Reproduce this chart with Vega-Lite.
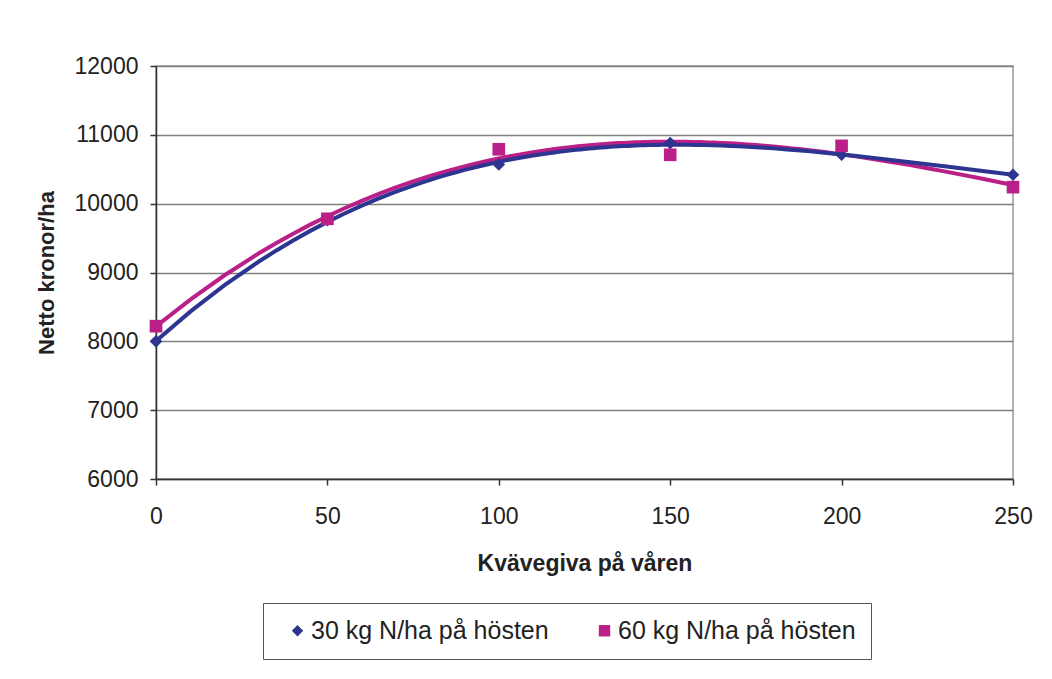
{
  "$schema": "https://vega.github.io/schema/vega-lite/v6.json",
  "width": 857,
  "height": 413,
  "autosize": {"type": "none"},
  "padding": {"left": 156, "top": 66, "right": 39, "bottom": 200},
  "background": "white",
  "config": {
    "font": "Liberation Sans",
    "view": {"stroke": "#999999", "strokeWidth": 1.5}
  },
  "data": {
    "values": [
      {"serie": "30 kg N/ha på hösten", "kvave": 0, "netto": 8000},
      {"serie": "30 kg N/ha på hösten", "kvave": 50, "netto": 9760},
      {"serie": "30 kg N/ha på hösten", "kvave": 100, "netto": 10570},
      {"serie": "30 kg N/ha på hösten", "kvave": 150, "netto": 10880},
      {"serie": "30 kg N/ha på hösten", "kvave": 200, "netto": 10710},
      {"serie": "30 kg N/ha på hösten", "kvave": 250, "netto": 10420},
      {"serie": "60 kg N/ha på hösten", "kvave": 0, "netto": 8220},
      {"serie": "60 kg N/ha på hösten", "kvave": 50, "netto": 9780},
      {"serie": "60 kg N/ha på hösten", "kvave": 100, "netto": 10790},
      {"serie": "60 kg N/ha på hösten", "kvave": 150, "netto": 10710},
      {"serie": "60 kg N/ha på hösten", "kvave": 200, "netto": 10840},
      {"serie": "60 kg N/ha på hösten", "kvave": 250, "netto": 10240}
    ]
  },
  "encoding": {
    "x": {
      "field": "kvave",
      "type": "quantitative",
      "title": "Kvävegiva på våren",
      "scale": {"domain": [0, 250], "nice": false},
      "axis": {
        "values": [0, 50, 100, 150, 200, 250],
        "grid": false,
        "labelFlush": false,
        "domainColor": "#333333",
        "domainWidth": 1.5,
        "tickColor": "#333333",
        "tickWidth": 1.5,
        "tickSize": 6,
        "labelFontSize": 23,
        "labelColor": "#222222",
        "labelPadding": 20,
        "titleFontSize": 23,
        "titleFontWeight": "bold",
        "titleColor": "#222222",
        "titleY": 91,
        "titleBaseline": "alphabetic"
      }
    },
    "y": {
      "field": "netto",
      "type": "quantitative",
      "title": "Netto kronor/ha",
      "scale": {"domain": [6000, 12000], "nice": false, "zero": false},
      "axis": {
        "values": [6000, 7000, 8000, 9000, 10000, 11000, 12000],
        "format": "d",
        "grid": true,
        "labelFlush": false,
        "gridColor": "#808080",
        "gridWidth": 1.5,
        "domainColor": "#333333",
        "domainWidth": 1.5,
        "tickColor": "#333333",
        "tickWidth": 1.5,
        "tickSize": 6,
        "labelFontSize": 23,
        "labelColor": "#222222",
        "labelPadding": 12,
        "titleFontSize": 22,
        "titleFontWeight": "bold",
        "titleColor": "#222222",
        "titleX": -103,
        "titleBaseline": "alphabetic"
      }
    }
  },
  "layer": [
    {
      "transform": [
        {"filter": "datum.serie == '60 kg N/ha på hösten'"},
        {"regression": "netto", "on": "kvave", "method": "poly", "order": 3, "extent": [0, 250]}
      ],
      "mark": {"type": "line", "color": "#BB2088", "strokeWidth": 4}
    },
    {
      "transform": [
        {"filter": "datum.serie == '30 kg N/ha på hösten'"},
        {"regression": "netto", "on": "kvave", "method": "poly", "order": 3, "extent": [0, 250]}
      ],
      "mark": {"type": "line", "color": "#2D3591", "strokeWidth": 4}
    },
    {
      "mark": {"type": "point", "filled": true, "opacity": 1, "size": 160},
      "encoding": {
        "color": {
          "field": "serie",
          "type": "nominal",
          "scale": {"domain": ["30 kg N/ha på hösten", "60 kg N/ha på hösten"], "range": ["#2D3591", "#BB2088"]},
          "legend": {
            "orient": "none",
            "legendX": 107,
            "legendY": 537,
            "direction": "horizontal",
            "columns": 2,
            "title": null,
            "padding": 15,
            "strokeColor": "#555555",
            "fillColor": "white",
            "labelFontSize": 25,
            "labelColor": "#222222",
            "labelLimit": 400,
            "symbolSize": 130,
            "symbolOffset": 7,
            "labelOffset": 1,
            "columnPadding": 36,
            "symbolOpacity": 1,
            "symbolStrokeWidth": 0
          }
        },
        "shape": {
          "field": "serie",
          "type": "nominal",
          "scale": {"domain": ["30 kg N/ha på hösten", "60 kg N/ha på hösten"], "range": ["diamond", "square"]}
        }
      }
    }
  ]
}
